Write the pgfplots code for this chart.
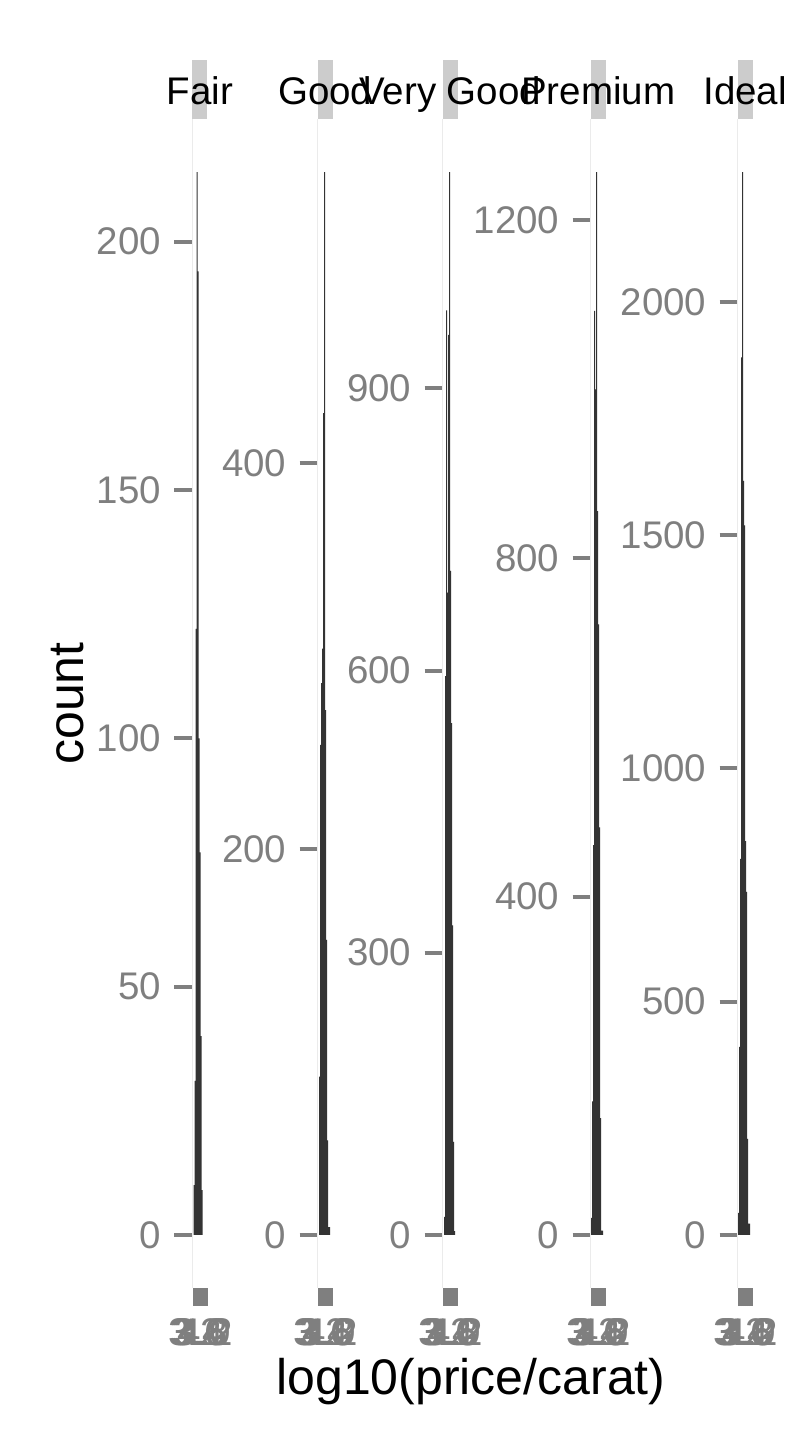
\documentclass[border=0pt]{standalone}
\usepackage{fontspec}
\setmainfont{Liberation Sans}
\usepackage{pgfplots}
\pgfplotsset{compat=1.18}
\definecolor{tickgray}{RGB}{127,127,127}
\definecolor{stripgray}{RGB}{204,204,204}
\definecolor{gridgray}{RGB}{235,235,235}
\definecolor{barcol}{RGB}{51,51,51}
\pgfplotsset{facet/.style={
  scale only axis, width=7.5pt, height=584.5pt, anchor=south west,
  xmin=2.958, xmax=4.311,
  axis x line*=bottom, axis y line*=left,
  x axis line style={draw=none},
  y axis line style={draw=gridgray, line width=0.5pt},
  tick align=outside, major tick length=9pt,
  every tick/.style={draw=tickgray, line width=2pt},
  every major tick/.append style={draw=tickgray, line width=2pt},
  xtick style={draw=tickgray, line width=2pt},
  ytick style={draw=tickgray, line width=2pt},
  minor tick num=0,
  xtick={3.2,3.4,3.6,3.8,4.0,4.2}, xticklabels={3.2,3.4,3.6,3.8,4.0,4.2},
  ticklabel style={font=\fontsize{19.25}{20}\selectfont, text=tickgray},
  yticklabel style={anchor=east, inner sep=0pt, xshift=-6.5pt},
  xticklabel style={anchor=north, inner sep=0pt, yshift=-6pt},
  /pgf/number format/assume math mode=true,
  /pgf/number format/set thousands separator={},
  scaled ticks=false,
  clip=false,
}}
\newcommand{\strip}[1]{%
  \fill[stripgray] (rel axis cs:0,1) rectangle ([yshift=29.5pt]rel axis cs:1,1);
  \node[anchor=base, font=\fontsize{19.25}{20}\selectfont, text=black, inner sep=0pt] at ([yshift=7.35pt]rel axis cs:0.5,1) {#1};}
\begin{document}
\begin{tikzpicture}
\path[use as bounding box] (0,0) rectangle (406pt,722.5pt);
% Fair
\begin{axis}[facet, at={(96.15pt,78.5pt)}, ymin=-10.7, ymax=224.7, ytick={0,50,100,150,200}]
\addplot[ybar interval, fill=barcol, draw=none] coordinates {
(3.08,10) (3.17,31) (3.26,122) (3.35,214) (3.44,194) (3.53,100) (3.62,77) (3.71,40) (3.80,9) (3.89,0)};
\strip{Fair}
\end{axis}
% Good
\begin{axis}[facet, at={(158.85pt,78.5pt)}, ymin=-27.55, ymax=578.55, ytick={0,200,400}]
\addplot[ybar interval, fill=barcol, draw=none] coordinates {
(3.08,82) (3.17,254) (3.26,286) (3.35,304) (3.44,426) (3.53,551) (3.62,272) (3.71,153) (3.80,49) (3.89,4) (3.98,4) (4.07,0)};
\strip{Good}
\end{axis}
% Very Good
\begin{axis}[facet, at={(221.35pt,78.5pt)}, ymin=-56.5, ymax=1186.5, ytick={0,300,600,900}]
\addplot[ybar interval, fill=barcol, draw=none] coordinates {
(3.08,19) (3.17,594) (3.26,983) (3.35,683) (3.44,957) (3.53,1130) (3.62,706) (3.71,544) (3.80,329) (3.89,99) (3.98,4) (4.07,0)};
\strip{Very Good}
\end{axis}
% Premium
\begin{axis}[facet, at={(295.35pt,78.5pt)}, ymin=-62.85, ymax=1319.85, ytick={0,400,800,1200}]
\addplot[ybar interval, fill=barcol, draw=none] coordinates {
(2.99,20) (3.08,158) (3.17,461) (3.26,1093) (3.35,1000) (3.44,1257) (3.53,856) (3.62,722) (3.71,482) (3.80,138) (3.89,5) (3.98,5) (4.07,0)};
\strip{Premium}
\end{axis}
% Ideal
\begin{axis}[facet, at={(368.85pt,78.5pt)}, ymin=-113.9, ymax=2391.9, ytick={0,500,1000,1500,2000}]
\addplot[ybar interval, fill=barcol, draw=none] coordinates {
(2.99,47) (3.08,403) (3.17,806) (3.26,1881) (3.35,2278) (3.44,1616) (3.53,1521) (3.62,844) (3.71,735) (3.80,206) (3.89,24) (3.98,24) (4.07,0)};
\strip{Ideal}
\end{axis}
\node[rotate=90, font=\fontsize{25}{26}\selectfont, inner sep=0pt] at (34pt,370.75pt) {count};
\node[anchor=base, font=\fontsize{25}{26}\selectfont, inner sep=0pt] at (235.5pt,25pt) {log10(price/carat)};
\end{tikzpicture}
\end{document}
